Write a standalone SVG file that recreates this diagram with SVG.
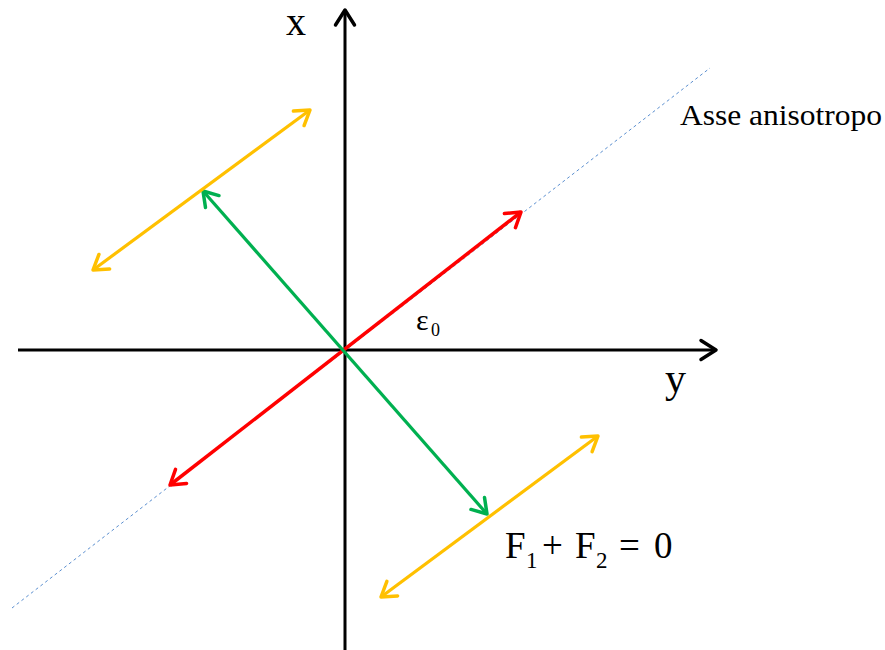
<svg xmlns="http://www.w3.org/2000/svg" width="885" height="650" viewBox="0 0 885 650">
<style>
.lbl{font-family:"Liberation Serif","Times New Roman",serif;fill:#000}
.ax{stroke:#000;stroke-width:3;fill:none}
.red{stroke:#FF0000;stroke-width:3.5;fill:none}
.grn{stroke:#00B050;stroke-width:3.2;fill:none}
.yel{stroke:#FFC000;stroke-width:3.2;fill:none}
.dash{stroke:#5B8FD0;stroke-width:1;stroke-dasharray:3,3;fill:none}
</style>
<defs>
<marker id="hk" markerUnits="userSpaceOnUse" viewBox="-20 -12 24 24" refX="0" refY="0" markerWidth="24" markerHeight="24" orient="auto-start-reverse"><path d="M-15,-9.5 L0,0 L-15,9.5" fill="none" stroke="#000" stroke-width="3.5" stroke-linecap="round" stroke-linejoin="round"/></marker>
<marker id="hr" markerUnits="userSpaceOnUse" viewBox="-20 -12 24 24" refX="0" refY="0" markerWidth="24" markerHeight="24" orient="auto-start-reverse"><path d="M-14,-9 L0,0 L-14,9" fill="none" stroke="#FF0000" stroke-width="3.5" stroke-linecap="round" stroke-linejoin="round"/></marker>
<marker id="hg" markerUnits="userSpaceOnUse" viewBox="-20 -12 24 24" refX="0" refY="0" markerWidth="24" markerHeight="24" orient="auto-start-reverse"><path d="M-14,-9 L0,0 L-14,9" fill="none" stroke="#00B050" stroke-width="3.5" stroke-linecap="round" stroke-linejoin="round"/></marker>
<marker id="hy" markerUnits="userSpaceOnUse" viewBox="-20 -12 24 24" refX="0" refY="0" markerWidth="24" markerHeight="24" orient="auto-start-reverse"><path d="M-14,-9 L0,0 L-14,9" fill="none" stroke="#FFC000" stroke-width="3.5" stroke-linecap="round" stroke-linejoin="round"/></marker>
</defs>
<rect width="885" height="650" fill="#fff"/>
<g id="connectors">
<line id="anisotropic-axis" class="dash" x1="12" y1="608" x2="710" y2="68"/>
<line id="axis-x" class="ax" x1="345" y1="650" x2="345" y2="10" marker-end="url(#hk)"/>
<line id="axis-y" class="ax" x1="18" y1="350" x2="716" y2="350" marker-end="url(#hk)"/>
<line id="red-eps" class="red" x1="170" y1="485" x2="521" y2="212" marker-start="url(#hr)" marker-end="url(#hr)"/>
<line id="green" class="grn" x1="203" y1="191" x2="487" y2="514" marker-start="url(#hg)" marker-end="url(#hg)"/>
<line id="yellow-top" class="yel" x1="93" y1="270" x2="310" y2="110" marker-start="url(#hy)" marker-end="url(#hy)"/>
<line id="yellow-bottom" class="yel" x1="381" y1="597" x2="598" y2="436" marker-start="url(#hy)" marker-end="url(#hy)"/>
</g>
<g id="label-x"><text class="lbl" x="286" y="35" font-size="40">x</text></g>
<g id="label-y"><text class="lbl" x="665" y="392" font-size="42">y</text></g>
<g id="label-axis"><text class="lbl" x="680" y="125" font-size="30" textLength="202" lengthAdjust="spacingAndGlyphs">Asse anisotropo</text></g>
<g id="label-eps"><text class="lbl" x="416" y="330" font-size="30">ε<tspan font-size="18" dy="6" x="431">0</tspan></text></g>
<g id="label-f"><text class="lbl" font-size="37"><tspan x="505" y="558">F</tspan><tspan x="526" y="568" font-size="23">1</tspan><tspan x="542" y="558">+</tspan><tspan x="575" y="558">F</tspan><tspan x="596" y="568" font-size="23">2</tspan><tspan x="619" y="558">=</tspan><tspan x="654" y="558">0</tspan></text></g>
</svg>
